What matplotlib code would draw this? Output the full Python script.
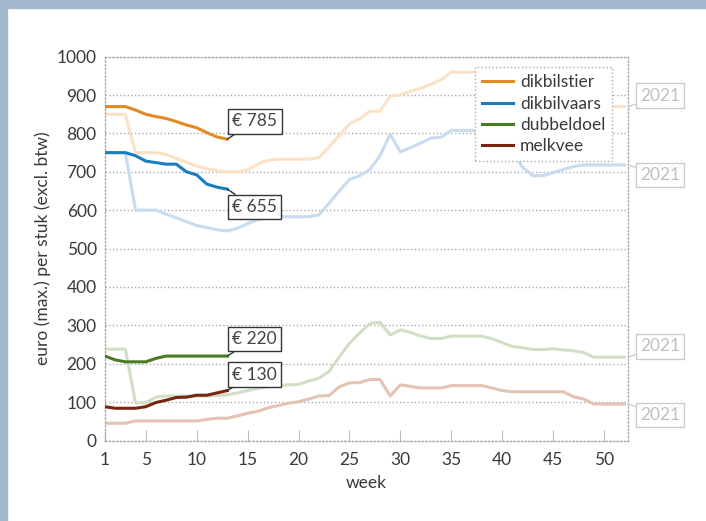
import numpy as np
import matplotlib
matplotlib.use("Agg")
import matplotlib.pyplot as plt
from matplotlib.patches import Rectangle

plt.rcParams['font.family'] = ['Lato', 'DejaVu Sans']

# data
weeks_2022 = list(range(1, 14))
weeks_2021 = list(range(1, 53))

dikbilstier_2022 = [870, 870, 870, 861, 850, 844, 839, 831, 822, 815, 802, 791, 785]
dikbilvaars_2022 = [750, 750, 750, 742, 728, 724, 720, 720, 700, 692, 668, 660, 655]
dubbeldoel_2022 = [220, 210, 205, 205, 205, 214, 220, 220, 220, 220, 220, 220, 220]
melkvee_2022 = [88, 84, 84, 84, 88, 99, 105, 112, 113, 118, 118, 124, 130]

dikbilstier_2021 = [850, 850, 850, 750, 750, 750, 745, 735, 725, 715,
                    708, 703, 700, 700, 705, 720, 730, 733, 733, 733,
                    733, 737, 765, 795, 825, 838, 858, 858, 898, 900,
                    910, 918, 928, 940, 960, 960, 960, 960, 960, 950,
                    930, 910, 890, 880, 870, 870, 870, 870, 870, 870,
                    870, 870]
dikbilvaars_2021 = [750, 750, 750, 600, 600, 600, 590, 580, 570, 560,
                    555, 549, 546, 553, 565, 576, 581, 583, 583, 583,
                    583, 588, 618, 650, 680, 690, 706, 742, 798, 752,
                    763, 775, 788, 790, 808, 808, 808, 808, 808, 790,
                    752, 712, 690, 690, 698, 706, 714, 718, 718, 718,
                    718, 718]
dubbeldoel_2021 = [238, 238, 238, 98, 98, 113, 116, 116, 116, 116,
                   116, 117, 119, 124, 130, 136, 140, 143, 145, 146,
                   155, 162, 180, 218, 253, 280, 305, 308, 275, 288,
                   282, 272, 266, 266, 272, 272, 272, 272, 265, 255,
                   245, 242, 237, 237, 239, 236, 234, 229, 217, 217,
                   217, 217]
melkvee_2021 = [45, 45, 45, 51, 51, 51, 51, 51, 51, 51,
                55, 58, 58, 64, 71, 76, 85, 91, 97, 101,
                108, 116, 117, 140, 150, 151, 159, 159, 116, 145,
                141, 137, 137, 137, 143, 143, 143, 143, 137, 130,
                127, 127, 127, 127, 127, 127, 114, 108, 95, 95,
                95, 95]

names = ["dikbilstier", "dikbilvaars", "dubbeldoel", "melkvee"]
series_2022 = [dikbilstier_2022, dikbilvaars_2022, dubbeldoel_2022, melkvee_2022]
series_2021 = [dikbilstier_2021, dikbilvaars_2021, dubbeldoel_2021, melkvee_2021]
dark = ["#e38a25", "#1a7dbf", "#4a7a22", "#76260e"]
light = ["#fbe2c6", "#c8dbef", "#d0dfc5", "#e2c3b4"]

fig = plt.figure(figsize=(7.06, 5.21), dpi=100)
fig.patches.append(Rectangle((0, 1 - 8 / 521), 1, 8 / 521, transform=fig.transFigure,
                             color="#a3b8cd", zorder=0))
fig.patches.append(Rectangle((0, 0), 7 / 706, 1, transform=fig.transFigure,
                             color="#a3b8cd", zorder=0))

ax = fig.add_axes([105 / 706, 1 - 440.5 / 521, 523 / 706, 383.8 / 521])

for ys, c in zip(series_2021, light):
    ax.plot(weeks_2021, ys, color=c, lw=2.2, zorder=2)
for ys, c, n in zip(series_2022, dark, names):
    ax.plot(weeks_2022, ys, color=c, lw=2.2, zorder=3, label=n)

ax.set_xlim(1, 52.35)
ax.set_ylim(0, 1000)
ax.set_xticks([1, 5, 10, 15, 20, 25, 30, 35, 40, 45, 50])
ax.set_yticks(np.arange(0, 1001, 100))
ax.tick_params(axis='y', length=0, labelsize=12.5, labelcolor="#3a3a3a", pad=6)
ax.tick_params(axis='x', direction='in', length=8, color="#bbbbbb",
               labelsize=12.5, labelcolor="#3a3a3a", pad=8)
ax.grid(axis='y', linestyle=':', color="#aaaaaa", lw=1)
for s in ax.spines.values():
    s.set_linestyle(':')
    s.set_color("#aaaaaa")
    s.set_linewidth(1)

ax.set_xlabel("week", fontsize=12.5, color="#3a3a3a", labelpad=5)
ax.set_ylabel("euro (max.) per stuk (excl. btw)", fontsize=12.5, color="#3a3a3a", labelpad=4)

leg = ax.legend(loc="upper right", bbox_to_anchor=(0.97, 0.972), borderaxespad=0,
                fontsize=12.5, frameon=True, fancybox=False, handlelength=1.8,
                handletextpad=0.4, labelspacing=0.3, borderpad=0.4)
leg.get_frame().set_linestyle(':')
leg.get_frame().set_edgecolor("#aaaaaa")
leg.get_frame().set_facecolor("white")
leg.get_frame().set_alpha(1)
for t in leg.get_texts():
    t.set_color("#3a3a3a")

# callouts for the latest 2022 values
offsets_2022 = [(5, 18), (5, -18), (5, 17), (5, 16)]
for ys, off in zip(series_2022, offsets_2022):
    ax.annotate(f"€ {ys[-1]}", xy=(weeks_2022[-1], ys[-1]), xytext=off,
                textcoords="offset pixels", ha="left", va="center",
                fontsize=12.5, color="#444444", zorder=5,
                bbox=dict(boxstyle="square,pad=0.25", fc="white", ec="#333333", lw=1),
                arrowprops=dict(arrowstyle="-", color="#333333", lw=1,
                                shrinkA=0, shrinkB=0))

# 2021 end labels
offsets_2021 = [(12, 11), (12, -10), (12, 11), (12, -11)]
for ys, off in zip(series_2021, offsets_2021):
    ax.annotate("2021", xy=(52.35, ys[-1]), xytext=off,
                textcoords="offset pixels", ha="left", va="center",
                fontsize=12.5, color="#c0c0c0", annotation_clip=False, zorder=5,
                bbox=dict(boxstyle="square,pad=0.25", fc="white", ec="#cccccc", lw=1),
                arrowprops=dict(arrowstyle="-", color="#cccccc", lw=1,
                                shrinkA=0, shrinkB=0))

fig.savefig("out.png", dpi=100)
